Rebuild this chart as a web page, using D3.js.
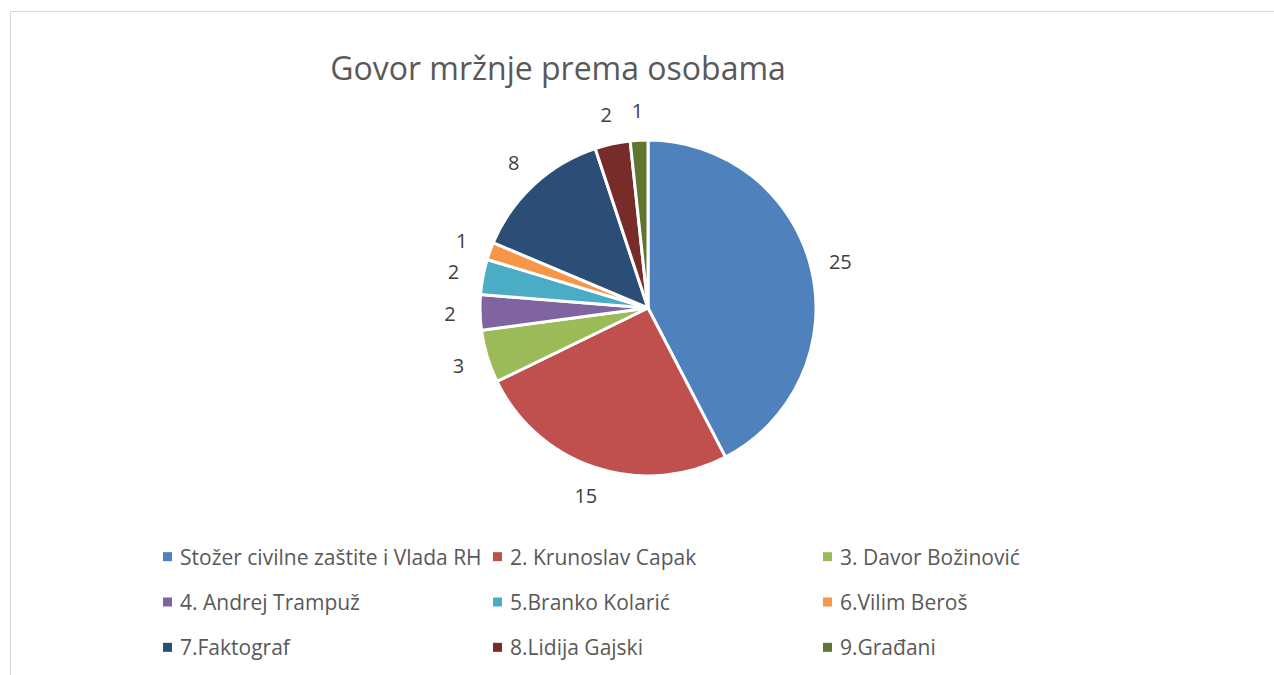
<!DOCTYPE html>
<html>
<head>
<meta charset="utf-8">
<script src="https://cdn.jsdelivr.net/npm/d3@7"></script>
<style>
  body { margin: 0; background: #fff; }
  svg { display: block; font-family: "Open Sans", "Noto Sans", sans-serif; }
</style>
</head>
<body>
<div id="chart"></div>
<script>
/* Data */
const TITLE = "Govor mržnje prema osobama";
const NAMES = [
  "Stožer civilne zaštite i Vlada RH", "2. Krunoslav Capak", "3. Davor Božinović",
  "4. Andrej Trampuž", "5.Branko Kolarić", "6.Vilim Beroš",
  "7.Faktograf", "8.Lidija Gajski", "9.Građani"
];
const VALUES = [25, 15, 3, 2, 2, 1, 8, 2, 1];
const COLORS = ["#4f81bd", "#c0504d", "#9bbb59", "#8064a2", "#4bacc6", "#f79646", "#2c4d75", "#772c2a", "#5f7530"];

const W = 1274, H = 675;
const cx = 648, cy = 308, R = 168;
const TEXT = "#595959";

const svg = d3.select("#chart").append("svg")
  .attr("width", W).attr("height", H);

/* Chart frame */
svg.append("rect").attr("x", 10.5).attr("y", 11.5)
  .attr("width", W).attr("height", H)
  .attr("fill", "none").attr("stroke", "#d9d9d9");

/* Title */
svg.append("text").attr("x", 558).attr("y", 80).attr("text-anchor", "middle")
  .style("font-size", "32px").style("fill", TEXT)
  .text(TITLE);

/* Pie */
const data = NAMES.map((n, i) => ({ name: n, value: VALUES[i], color: COLORS[i] }));
const pie = d3.pie().value(d => d.value).sort(null);
const arc = d3.arc().innerRadius(0).outerRadius(R);
const labelArc = d3.arc().innerRadius(R + 30).outerRadius(R + 30);

const g = svg.append("g").attr("transform", `translate(${cx},${cy})`);
const arcs = pie(data);

g.selectAll(".slice").data(arcs).enter().append("path").attr("class", "slice")
  .attr("d", arc)
  .attr("fill", d => d.data.color)
  .attr("stroke", "#fff").attr("stroke-width", 3).attr("stroke-linejoin", "round");

g.selectAll(".lbl").data(arcs).enter().append("text").attr("class", "lbl")
  .attr("transform", d => `translate(${labelArc.centroid(d)})`)
  .attr("text-anchor", "middle").attr("dominant-baseline", "central")
  .style("font-size", "20px").style("fill", "#404040")
  .text(d => d.data.value);

/* Legend: 3 columns x 3 rows */
const legX = d3.scaleBand().domain([0, 1, 2]).range([163, 1153]);
const legY = d3.scaleBand().domain([0, 1, 2]).range([534, 670]);

const leg = svg.selectAll(".leg").data(data).enter().append("g").attr("class", "leg")
  .attr("transform", (d, i) => `translate(${legX(i % 3)},${legY(Math.floor(i / 3)) + legY.bandwidth() / 2})`);

leg.append("rect").attr("x", 0).attr("y", -4.5).attr("width", 9).attr("height", 9)
  .attr("fill", d => d.color);

leg.append("text").attr("x", 17).attr("y", 0).attr("dominant-baseline", "central")
  .style("font-size", "21px").style("fill", TEXT)
  .text(d => d.name);
</script>
</body>
</html>
